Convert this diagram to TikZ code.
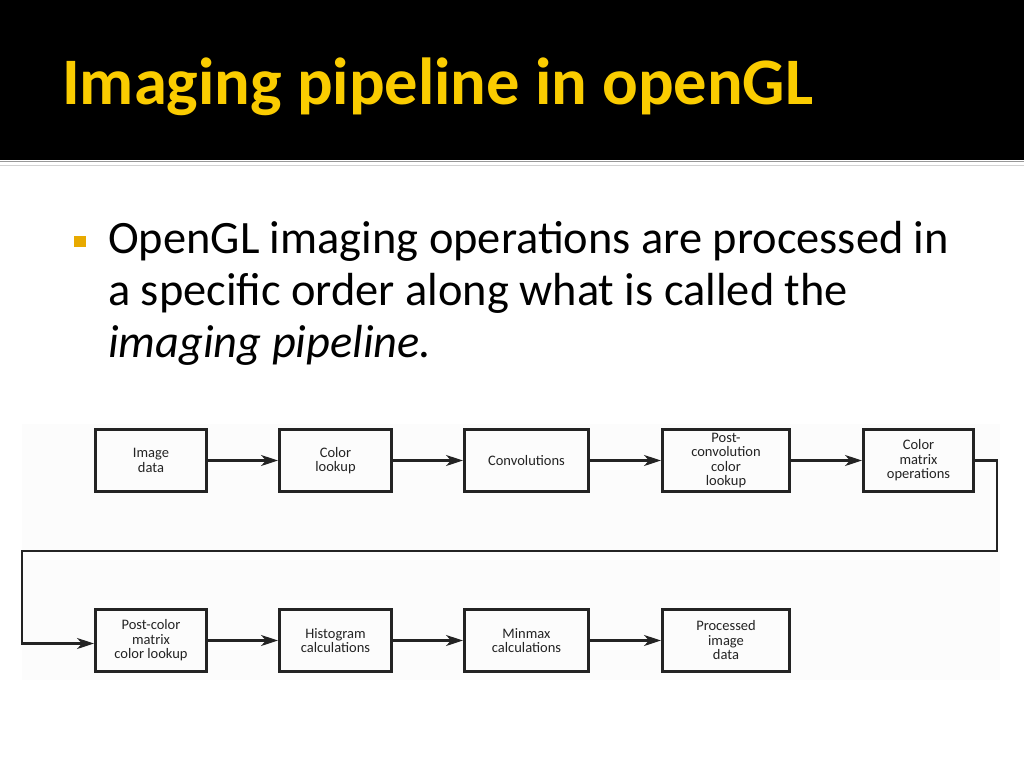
\documentclass[tikz,border=0pt]{standalone}
\usepackage{fontspec}
\setmainfont{Carlito}
\usepackage{tikz}
\usetikzlibrary{arrows.meta, positioning}
\definecolor{titleYellow}{RGB}{250, 204, 0}
\definecolor{bulletOrange}{RGB}{232, 170, 0}
\definecolor{boxInk}{RGB}{35, 35, 35}

\begin{document}
\begin{tikzpicture}[x=1pt, y=-1pt,
  stage/.style={rectangle, draw=boxInk, line width=3pt, inner sep=0pt,
                minimum height=62pt, align=center, text=boxInk,
                font=\fontsize{14.5}{14.5}\selectfont},
  flow/.style={draw=boxInk, line width=2.2pt,
               -{Stealth[length=17pt, width=11pt, inset=5pt]}},
  bodytxt/.style={anchor=base west, inner sep=0pt,
                  font=\fontsize{46.4}{52}\selectfont}
]
  %% Slide frame
  \useasboundingbox (0,0) rectangle (1024,768);
  \fill[white] (0,0) rectangle (1024,768);
  \fill[black] (0,0) rectangle (1024,160);
  \draw[gray!80, line width=1.5pt] (0,161.5) -- (1024,161.5);
  \draw[gray!35, line width=1.5pt] (0,165.5) -- (1024,165.5);

  %% Title
  \node[anchor=base west, inner sep=0pt, text=titleYellow,
        font=\fontsize{66.5}{68}\selectfont\bfseries] (title) at (62,104)
    {Imaging pipeline in openGL};

  %% Bullet text
  \fill[bulletOrange] (74,236) rectangle (86,247);
  \node[bodytxt] (l1) at (108,253) {OpenGL imaging operations are processed in};
  \node[bodytxt] (l2) at (108,305) {a specific order along what is called the};
  \node[bodytxt] (l3) at (108,357) {\itshape imaging pipeline.};

  %% Figure background
  \fill[black!1.2] (22,424) rectangle (1000,680);

  %% Row 1
  \node[stage, minimum width=111pt] (img)   at (151,460.5)   {Image\\data};
  \node[stage, minimum width=112pt] (clut)  at (335.5,460.5) {Color\\lookup};
  \node[stage, minimum width=124pt] (conv)  at (526.5,460.5) {Convolutions};
  \node[stage, minimum width=127pt] (pclut) at (726,460.5)   {Post-\\convolution\\color\\lookup};
  \node[stage, minimum width=110pt] (cmat)  at (918.5,460.5) {Color\\matrix\\operations};

  %% Row 2
  \node[stage, minimum width=111pt] (pcmat)  at (151,640.5)   {Post-color\\matrix\\color lookup};
  \node[stage, minimum width=112pt] (hist)   at (335.5,640.5) {Histogram\\calculations};
  \node[stage, minimum width=124pt] (minmax) at (526.5,640.5) {Minmax\\calculations};
  \node[stage, minimum width=127pt] (out)    at (726,640.5)   {Processed\\image\\data};

  %% Turn points of the wrap-around line
  \coordinate (turnR) at (997,551);
  \coordinate (turnL) at (22,551);

  %% Connectors
  \draw[flow] (img)   -- (clut);
  \draw[flow] (clut)  -- (conv);
  \draw[flow] (conv)  -- (pclut);
  \draw[flow] (pclut) -- (cmat);
  \draw[flow] (cmat.east) -| (turnR) -- (turnL) |- ([yshift=-3pt]pcmat.west);
  \draw[flow] (pcmat)  -- (hist);
  \draw[flow] (hist)   -- (minmax);
  \draw[flow] (minmax) -- (out);

\end{tikzpicture}
\end{document}
